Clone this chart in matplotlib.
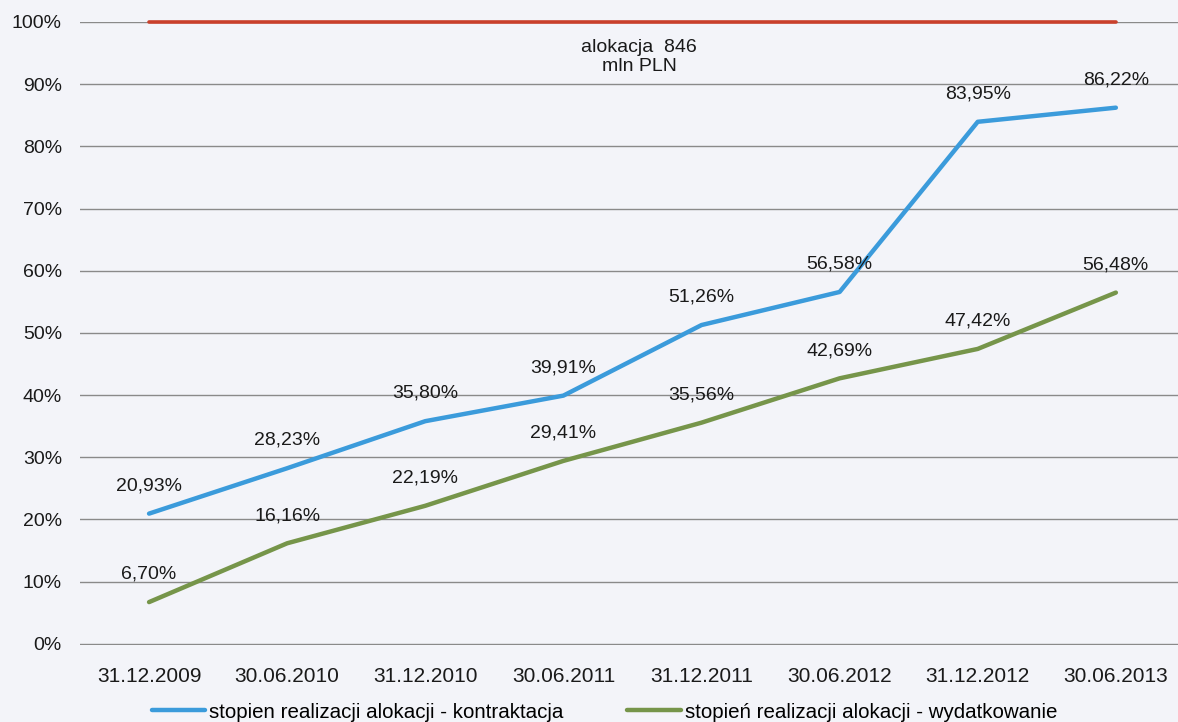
import matplotlib.pyplot as plt
import numpy as np

# dane
daty = ["31.12.2009", "30.06.2010", "31.12.2010", "30.06.2011",
        "31.12.2011", "30.06.2012", "31.12.2012", "30.06.2013"]
kontraktacja = [20.93, 28.23, 35.80, 39.91, 51.26, 56.58, 83.95, 86.22]
wydatkowanie = [6.70, 16.16, 22.19, 29.41, 35.56, 42.69, 47.42, 56.48]
alokacja = [100, 100, 100, 100, 100, 100, 100, 100]

plt.rcParams['font.family'] = ['Liberation Sans', 'DejaVu Sans']

tlo = '#f3f4f9'
fig = plt.figure(figsize=(11.78, 7.22), dpi=100, facecolor=tlo)
ax = fig.add_axes([80/1178, 1 - 645/722, 1 - 80/1178, (645 - 22)/722])
ax.set_facecolor(tlo)

x = np.arange(len(daty))
ax.plot(x, np.array(alokacja) / 100, color='#c9402c', lw=2.6, clip_on=False,
        solid_capstyle='round', zorder=3)
l1, = ax.plot(x, np.array(kontraktacja) / 100, color='#3b9bdb', lw=3.2,
              solid_capstyle='round', zorder=3)
l2, = ax.plot(x, np.array(wydatkowanie) / 100, color='#76954a', lw=3.2,
              solid_capstyle='round', zorder=3)

def fmt(v):
    return f"{v:.2f}%".replace('.', ',')

# etykiety danych nad punktami
for seria in (kontraktacja, wydatkowanie):
    for i, v in enumerate(seria):
        ax.annotate(fmt(v), (x[i], v / 100), xytext=(0, 20), textcoords='offset points',
                    ha='center', va='center', fontsize=14, color='#1a1a1a')

ax.text(3.55, 0.944, "alokacja  846\nmln PLN", ha='center', va='center',
        fontsize=14, color='#1a1a1a', linespacing=1.2)

ax.set_xlim(-0.5, 7.45)
ax.set_ylim(-0.002, 1)
ax.set_xticks(x)
ax.set_xticklabels(daty, fontsize=15, color='#1a1a1a')
ax.set_yticks(np.arange(0, 1.01, 0.1))
ax.set_yticklabels([f"{int(round(t * 100))}%" for t in np.arange(0, 1.01, 0.1)],
                   fontsize=14, color='#1a1a1a')
ax.tick_params(length=0)
ax.tick_params(axis='y', pad=13)
ax.tick_params(axis='x', pad=16)
ax.grid(axis='y', color='#8a8a8a', lw=1)
ax.set_axisbelow(True)
for s in ax.spines.values():
    s.set_visible(False)

fig.legend([l1, l2], ["stopien realizacji alokacji - kontraktacja",
                      "stopień realizacji alokacji - wydatkowanie"],
           loc='center', bbox_to_anchor=(0.513, 1 - 712/722), ncol=2, frameon=False,
           fontsize=14.8, handlelength=2.6, handletextpad=0.2, columnspacing=3.1,
           borderpad=0)

fig.savefig("out.png", dpi=100, facecolor=tlo)
